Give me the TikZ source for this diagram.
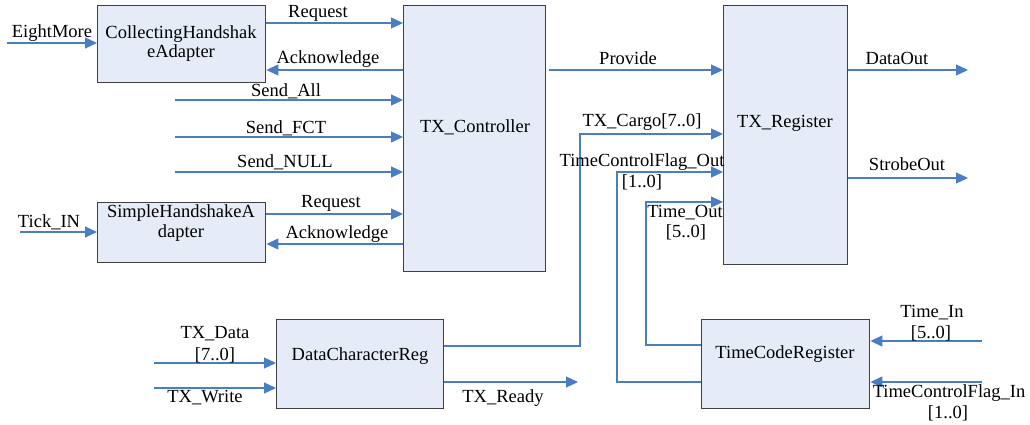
\documentclass[tikz,border=0pt]{standalone}
\usepackage{fontspec}
\setmainfont{Liberation Serif}
\usetikzlibrary{arrows.meta}
\definecolor{wirec}{HTML}{4A7EC4}
\definecolor{boxfill}{HTML}{E6ECF7}
\definecolor{boxline}{HTML}{404040}
\begin{document}
\begin{tikzpicture}[x=1pt,y=-1pt,
  box/.style={draw=boxline,line width=1.4pt,fill=boxfill,anchor=north west,inner sep=0pt},
  wire/.style={draw=wirec,line width=1.2pt},
  sig/.style={wire,-{Triangle[length=12pt,width=11pt]}},
  lbl/.style={font=\fontsize{18.5}{21}\selectfont,inner sep=0pt,anchor=base,text=black}]
\useasboundingbox (0,0) rectangle (1030,425);
% boxes
\node[box,minimum width=168pt,minimum height=77pt] (cha) at (97,5) {};
\node[box,minimum width=168pt,minimum height=60pt] (sha) at (97,202) {};
\node[box,minimum width=142pt,minimum height=266pt] (txc) at (403,5) {};
\node[box,minimum width=124pt,minimum height=259pt] (txr) at (723,5) {};
\node[box,minimum width=167pt,minimum height=89pt] (dcr) at (276,319) {};
\node[box,minimum width=168pt,minimum height=89pt] (tcr) at (701,319) {};
% box texts
\node[lbl] (chaA) at (181,39) {CollectingHandshak};
\node[lbl] (chaB) at (181,58) {eAdapter};
\node[lbl] (shaA) at (181,217) {SimpleHandshakeA};
\node[lbl] (shaB) at (181,237) {dapter};
\node[lbl] (txcL) at (475,132) {TX\_Controller};
\node[lbl] (txrL) at (785,128) {TX\_Register};
\node[lbl] (dcrL) at (360,360) {DataCharacterReg};
\node[lbl] (tcrL) at (785,358) {TimeCodeRegister};
% free ends
\coordinate (em) at (7,43);
\coordinate (sa) at (175,100);
\coordinate (sf) at (175,137);
\coordinate (sn) at (175,172);
\coordinate (ti) at (20,232);
\coordinate (dout) at (968,70);
\coordinate (sout) at (968,178);
\coordinate (cg) at (580,134);
\coordinate (tfo) at (617,172);
\coordinate (tmo) at (646,202);
\coordinate (tr) at (578,382);
\coordinate (td) at (154,363);
\coordinate (tw) at (154,388);
\coordinate (tin) at (982,341);
\coordinate (tfin) at (982,382);
% wires
\draw[sig] (em) -- (em -| cha.west);
\draw[sig] (cha.east |- 0,23) -- (txc.west |- 0,23);
\draw[sig] (txc.west |- 0,70) -- (cha.east |- 0,70);
\draw[sig] (sa) -- (sa -| txc.west);
\draw[sig] (sf) -- (sf -| txc.west);
\draw[sig] (sn) -- (sn -| txc.west);
\draw[sig] (sha.east |- 0,214) -- (txc.west |- 0,214);
\draw[sig] (txc.west |- 0,244) -- (sha.east |- 0,244);
\draw[sig] (ti) -- (ti -| sha.west);
\draw[sig] ([xshift=3pt]txc.east |- 0,70) -- (txr.west |- 0,70);
\draw[sig] (txr.east |- dout) -- (dout);
\draw[sig] (txr.east |- sout) -- (sout);
\draw[sig] (dcr.east |- 0,346) -| (cg) -- (cg -| txr.west);
\draw[sig] (tcr.west |- 0,382) -| (tfo) -- (tfo -| txr.west);
\draw[sig] (tcr.west |- 0,345) -| (tmo) -- (tmo -| txr.west);
\draw[sig] (dcr.east |- tr) -- (tr);
\draw[sig] (td) -- (td -| dcr.west);
\draw[sig] (tw) -- (tw -| dcr.west);
\draw[sig] (tin) -- (tin -| tcr.east);
\draw[sig] (tfin) -- (tfin -| tcr.east);
% wire labels
\node[lbl] (lem) at (52,38) {EightMore};
\node[lbl] (lrq1) at (318,18) {Request};
\node[lbl] (lak1) at (328,64) {Acknowledge};
\node[lbl] (lsa) at (286,97) {Send\_All};
\node[lbl] (lsf) at (286,133) {Send\_FCT};
\node[lbl] (lsn) at (285,167) {Send\_NULL};
\node[lbl] (lrq2) at (331,207) {Request};
\node[lbl] (lak2) at (337,238) {Acknowledge};
\node[lbl] (lti) at (49,227) {Tick\_IN};
\node[lbl] (lpr) at (628,65) {Provide};
\node[lbl] (lcg) at (642,127) {TX\_Cargo[7..0]};
\node[lbl] (ldo) at (897,65) {DataOut};
\node[lbl] (lso) at (907,170) {StrobeOut};
\node[lbl] (ltfoA) at (642,166) {TimeControlFlag\_Out};
\node[lbl] (ltfoB) at (642,187) {[1..0]};
\node[lbl] (ltmoA) at (685,217) {Time\_Out};
\node[lbl] (ltmoB) at (686,237) {[5..0]};
\node[lbl] (ltinA) at (932,317) {Time\_In};
\node[lbl] (ltinB) at (931,338) {[5..0]};
\node[lbl] (ltfiA) at (949,397) {TimeControlFlag\_In};
\node[lbl] (ltfiB) at (948,418) {[1..0]};
\node[lbl] (ltdA) at (215,338) {TX\_Data};
\node[lbl] (ltdB) at (215,360) {[7..0]};
\node[lbl] (ltw) at (205,402) {TX\_Write};
\node[lbl] (ltr) at (503,402) {TX\_Ready};
\end{tikzpicture}
\end{document}
